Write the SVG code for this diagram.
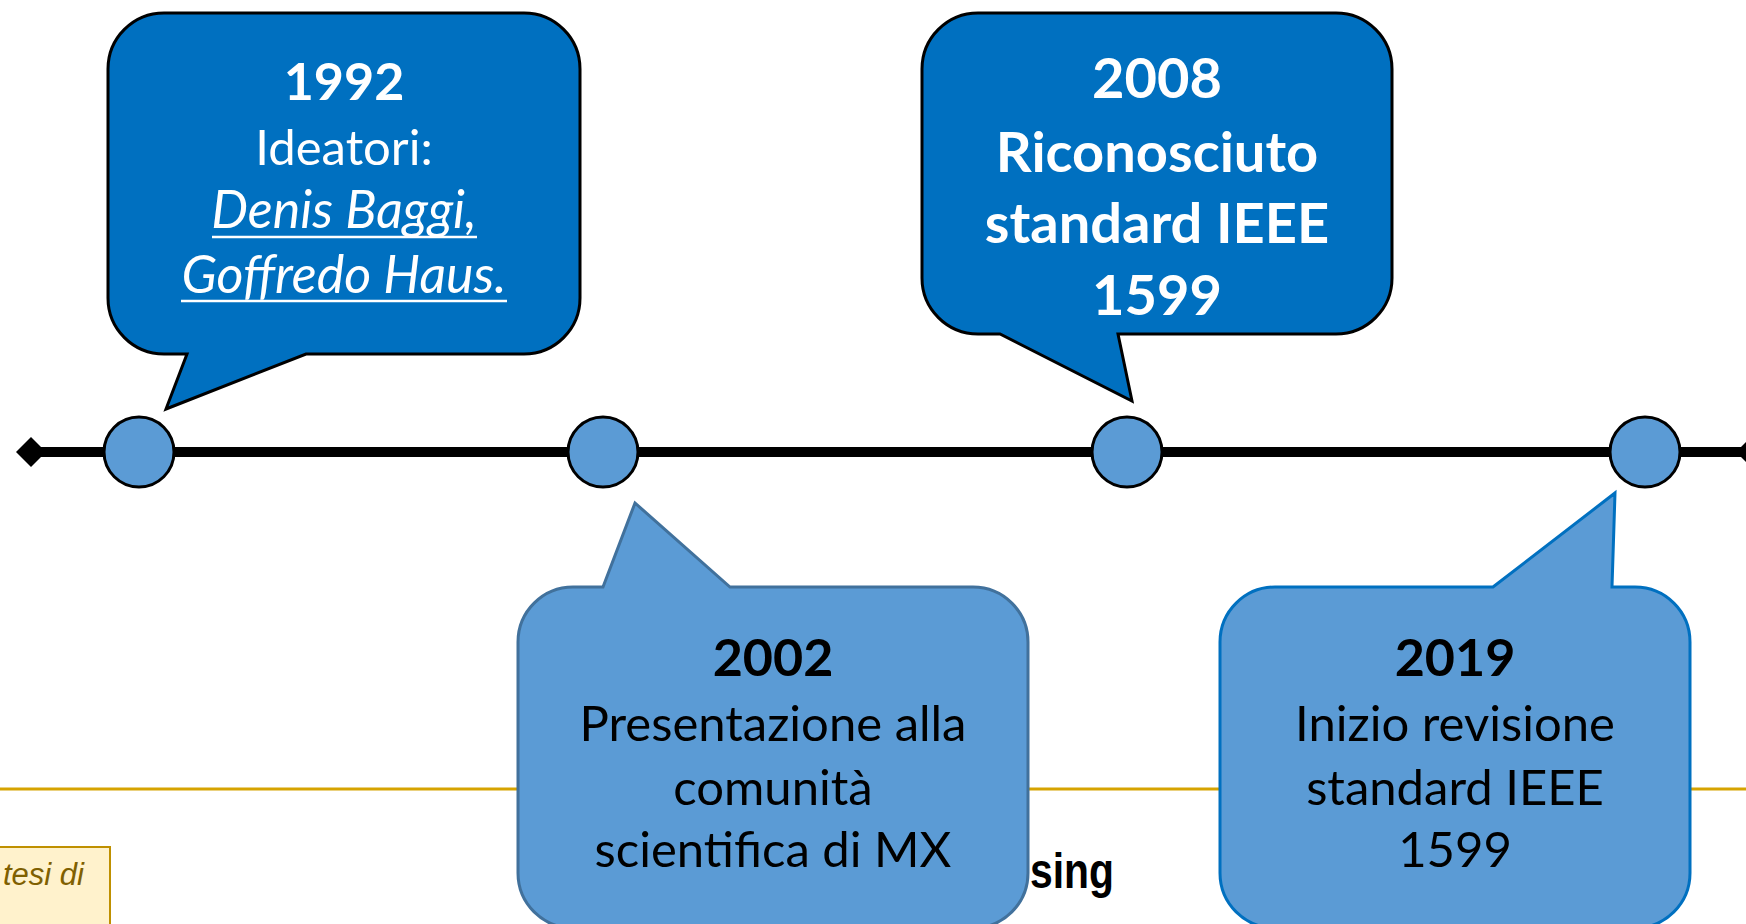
<svg xmlns="http://www.w3.org/2000/svg" width="1746" height="924" viewBox="0 0 1746 924">
<style>
.dark{fill:#0070C0;stroke:#000;stroke-width:3;stroke-linejoin:miter}
.light2{fill:#5B9BD5;stroke:#41719C;stroke-width:3}
.light4{fill:#5B9BD5;stroke:#0070C0;stroke-width:3}
.dot{fill:#5B9BD5;stroke:#000;stroke-width:3}
.t{font-family:Lato,"Open Sans",sans-serif;text-anchor:middle}
.w{fill:#fff}
.k{fill:#000}
.b{font-weight:bold;font-size:52px}
.r{font-size:49px}
.bb{font-weight:bold;font-size:56px}
.u{font-style:italic;font-size:52px}
.ul{stroke:#fff;stroke-width:2.5}
</style>
<rect width="1746" height="924" fill="#fff"/>
<g id="background">
<line x1="0" y1="789" x2="1746" y2="789" stroke="#D6A300" stroke-width="3"/>
<rect x="-5" y="847" width="115" height="90" fill="#FFF2CC" stroke="#BF9000" stroke-width="2"/>
<text x="3" y="885" font-family="'Liberation Sans',Arial,sans-serif" font-style="italic" font-size="31" fill="#7F6000">tesi di</text>
<text x="1030" y="888" font-family="'Liberation Sans',Arial,sans-serif" font-weight="bold" font-size="50" textLength="84" lengthAdjust="spacingAndGlyphs" fill="#000">sing</text>
</g>
<g id="connectors">
<line x1="31" y1="452" x2="1746" y2="452" stroke="#000" stroke-width="10"/>
<polygon points="16,452 31,437 46,452 31,467" fill="#000"/>
<polygon points="1736,452 1751,437 1766,452 1751,467" fill="#000"/>
</g>
<g id="dot1"><circle class="dot" cx="139" cy="452" r="35"/></g>
<g id="dot2"><circle class="dot" cx="603" cy="452" r="35"/></g>
<g id="dot3"><circle class="dot" cx="1127" cy="452" r="35"/></g>
<g id="dot4"><circle class="dot" cx="1645" cy="452" r="35"/></g>
<g id="bubble1992">
<path class="dark" d="M164,13 H524 A56 56 0 0 1 580,69 V298 A56 56 0 0 1 524,354 H306 L166,409 L187,354 H164 A56 56 0 0 1 108,298 V69 A56 56 0 0 1 164,13 Z"/>
<text class="t w b" x="344" y="100">1992</text>
<text class="t w r" x="344" y="165">Ideatori:</text>
<text class="t w u" x="344" y="228">Denis Baggi,</text>
<line class="ul" x1="212" y1="237" x2="477" y2="237"/>
<text class="t w u" x="344" y="293">Goffredo Haus.</text>
<line class="ul" x1="181" y1="301" x2="507" y2="301"/>
</g>
<g id="bubble2008">
<path class="dark" d="M978,13 H1336 A56 56 0 0 1 1392,69 V278 A56 56 0 0 1 1336,334 H1118 L1132,401 L1000,334 H978 A56 56 0 0 1 922,278 V69 A56 56 0 0 1 978,13 Z"/>
<text class="t w bb" x="1157" y="98">2008</text>
<text class="t w bb" x="1157" y="172">Riconosciuto</text>
<text class="t w bb" x="1157" y="243">standard IEEE</text>
<text class="t w bb" x="1157" y="315">1599</text>
</g>
<g id="bubble2002">
<path class="light2" d="M573,587 H603 L635,503 L730,587 H973 A55 55 0 0 1 1028,642 V873 A55 55 0 0 1 973,928 H573 A55 55 0 0 1 518,873 V642 A55 55 0 0 1 573,587 Z"/>
<text class="t k b" x="773" y="676">2002</text>
<text class="t k r" x="773" y="741">Presentazione alla</text>
<text class="t k r" x="773" y="805">comunità</text>
<text class="t k r" x="773" y="867">scientifica di MX</text>
</g>
<g id="bubble2019">
<path class="light4" d="M1275,587 H1493 L1615,493 L1612,587 H1635 A55 55 0 0 1 1690,642 V873 A55 55 0 0 1 1635,928 H1275 A55 55 0 0 1 1220,873 V642 A55 55 0 0 1 1275,587 Z"/>
<text class="t k b" x="1455" y="676">2019</text>
<text class="t k r" x="1455" y="741">Inizio revisione</text>
<text class="t k r" x="1455" y="805">standard IEEE</text>
<text class="t k r" x="1455" y="867">1599</text>
</g>
</svg>
